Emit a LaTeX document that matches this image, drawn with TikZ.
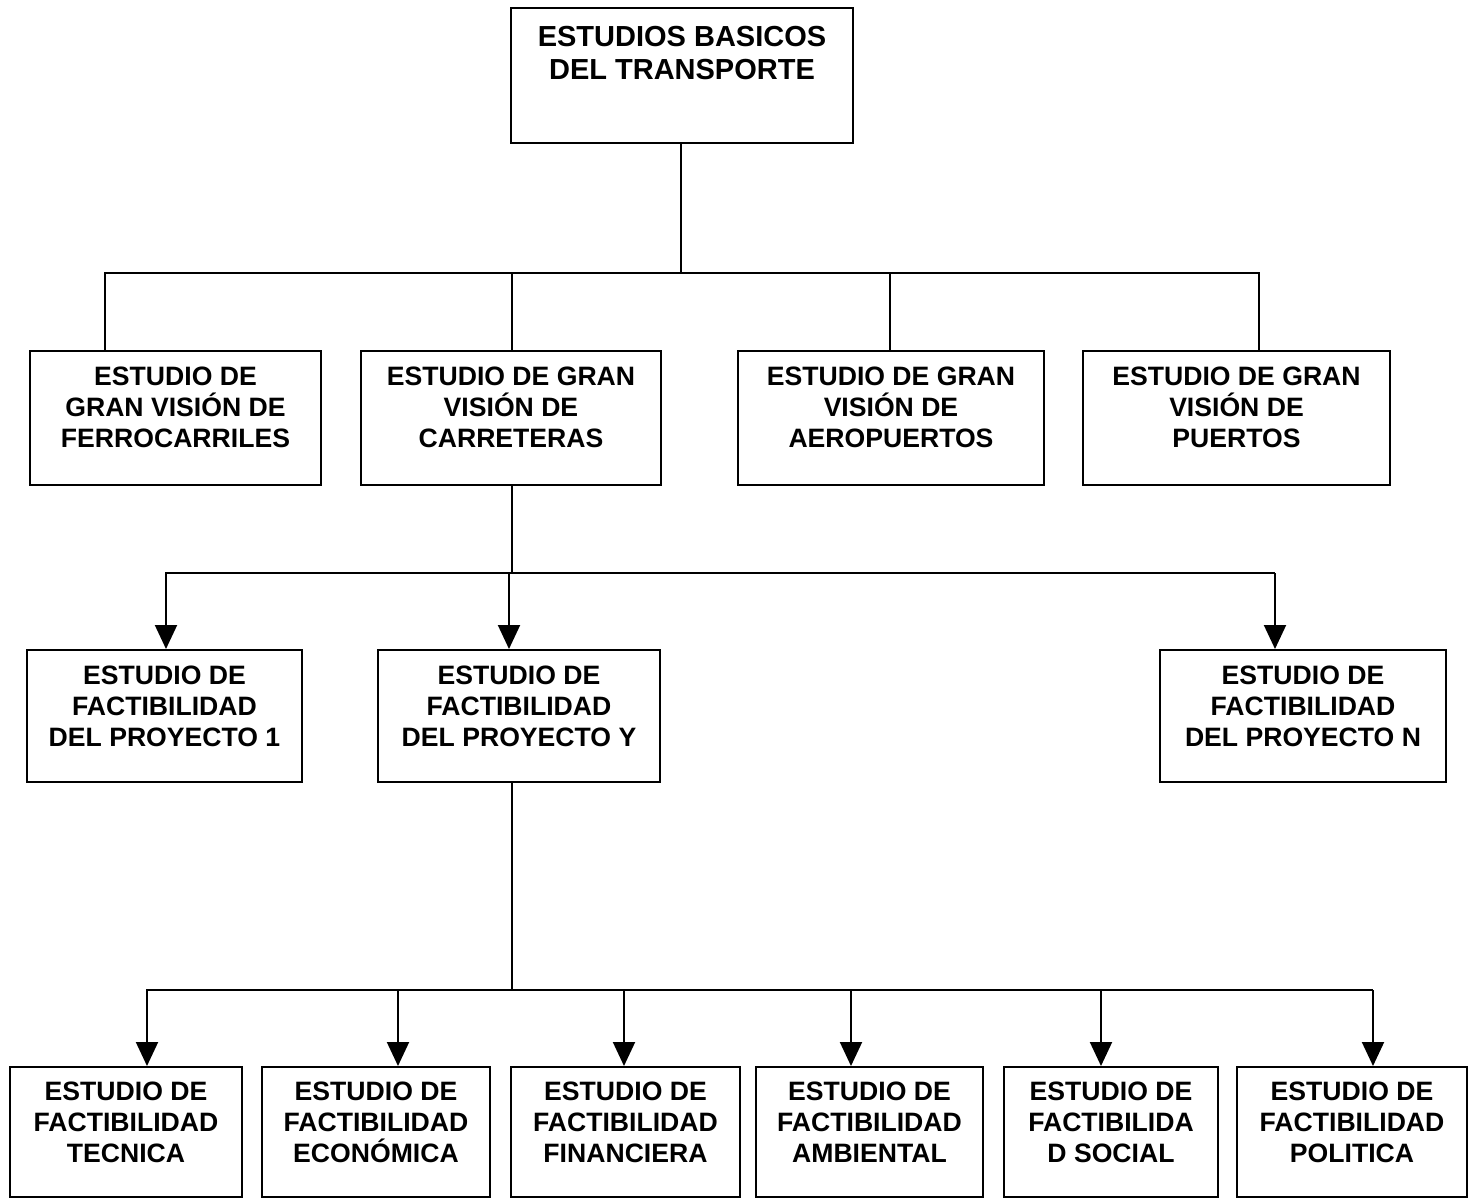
\documentclass[tikz,border=0pt]{standalone}
\usepackage{fontspec}
\setmainfont{Liberation Sans}
\usetikzlibrary{arrows.meta}
\begin{document}
\begin{tikzpicture}[x=0.5pt,y=-0.5pt,
  box/.style={draw,line width=1pt,rectangle,inner sep=0pt},
  txt/.style={inner sep=0pt,align=center,font=\fontsize{13.3pt}{15.5pt}\selectfont\bfseries},
  toptxt/.style={inner sep=0pt,align=center,font=\fontsize{14.5pt}{16.5pt}\selectfont\bfseries},
  wire/.style={line width=1pt},
  arr/.style={line width=1pt,-{Triangle[length=12pt,width=11pt]}}]
\useasboundingbox (0,0) rectangle (1474,1199);

% root
\node[box,minimum width=171pt,minimum height=67.5pt] (root) at (682,75.5) {};
\node[toptxt] (rootT) at ([yshift=11pt]root.center) {ESTUDIOS BASICOS\\DEL TRANSPORTE};

% second level: modes
\node[box,minimum width=145.5pt,minimum height=67pt] (fc) at (175.5,418) {};
\node[box,minimum width=150pt,minimum height=67pt] (ca) at (511,418) {};
\node[box,minimum width=153pt,minimum height=67pt] (ae) at (891,418) {};
\node[box,minimum width=153.5pt,minimum height=67pt] (pu) at (1236.5,418) {};
\node[txt] (fcT) at ([yshift=5.5pt]fc.center) {ESTUDIO DE\\GRAN VISIÓN DE\\FERROCARRILES};
\node[txt] (caT) at ([yshift=5.5pt]ca.center) {ESTUDIO DE GRAN\\VISIÓN DE\\CARRETERAS};
\node[txt] (aeT) at ([yshift=5.5pt]ae.center) {ESTUDIO DE GRAN\\VISIÓN DE\\AEROPUERTOS};
\node[txt] (puT) at ([yshift=5.5pt]pu.center) {ESTUDIO DE GRAN\\VISIÓN DE\\PUERTOS};

% third level: projects
\node[box,minimum width=137.5pt,minimum height=66pt] (p1) at (164.5,716) {};
\node[box,minimum width=141pt,minimum height=66pt] (py) at (519,716) {};
\node[box,minimum width=143pt,minimum height=66pt] (pn) at (1303,716) {};
\node[txt] (p1T) at ([yshift=5pt]p1.center) {ESTUDIO DE\\FACTIBILIDAD\\DEL PROYECTO 1};
\node[txt] (pyT) at ([yshift=5pt]py.center) {ESTUDIO DE\\FACTIBILIDAD\\DEL PROYECTO Y};
\node[txt] (pnT) at ([yshift=5pt]pn.center) {ESTUDIO DE\\FACTIBILIDAD\\DEL PROYECTO N};

% fourth level: feasibility studies
\node[box,minimum width=116pt,minimum height=65pt] (t1) at (126,1132) {};
\node[box,minimum width=114pt,minimum height=65pt] (t2) at (376,1132) {};
\node[box,minimum width=114.5pt,minimum height=65pt] (t3) at (625.5,1132) {};
\node[box,minimum width=113.5pt,minimum height=65pt] (t4) at (869.5,1132) {};
\node[box,minimum width=107pt,minimum height=65pt] (t5) at (1111,1132) {};
\node[box,minimum width=115pt,minimum height=65pt] (t6) at (1352,1132) {};
\node[txt] (t1T) at ([yshift=5pt]t1.center) {ESTUDIO DE\\FACTIBILIDAD\\TECNICA};
\node[txt] (t2T) at ([yshift=5pt]t2.center) {ESTUDIO DE\\FACTIBILIDAD\\ECONÓMICA};
\node[txt] (t3T) at ([yshift=5pt]t3.center) {ESTUDIO DE\\FACTIBILIDAD\\FINANCIERA};
\node[txt] (t4T) at ([yshift=5pt]t4.center) {ESTUDIO DE\\FACTIBILIDAD\\AMBIENTAL};
\node[txt] (t5T) at ([yshift=5pt]t5.center) {ESTUDIO DE\\FACTIBILIDA\\D SOCIAL};
\node[txt] (t6T) at ([yshift=5pt]t6.center) {ESTUDIO DE\\FACTIBILIDAD\\POLITICA};

% bus from root to modes
\coordinate (r0) at (681,273);
\coordinate (a1) at (105,273);
\coordinate (a2) at (512,273);
\coordinate (a3) at (890,273);
\coordinate (a4) at (1259,273);
\draw[wire] (root.south -| r0) -- (r0);
\draw[wire] (a1 |- fc.north) -- (a1) -- (a4) -- (a4 |- pu.north);
\draw[wire] (a2) -- (a2 |- ca.north);
\draw[wire] (a3) -- (a3 |- ae.north);

% bus from roads to projects
\coordinate (s0) at (512,573);
\coordinate (b1) at (166,573);
\coordinate (b2) at (509,573);
\coordinate (b3) at (1275,573);
\draw[wire] (ca.south -| s0) -- (s0);
\draw[arr] (b3) -- (b1) -- (b1 |- p1.north);
\draw[arr] (b3) -- (b3 |- pn.north);
\draw[arr] (b2) -- (b2 |- py.north);

% bus from project Y to feasibility studies
\coordinate (u0) at (512,990);
\coordinate (c1) at (147,990);
\coordinate (c2) at (398,990);
\coordinate (c3) at (624,990);
\coordinate (c4) at (851,990);
\coordinate (c5) at (1101,990);
\coordinate (c6) at (1373,990);
\draw[wire] (py.south -| u0) -- (u0);
\draw[arr] (c6) -- (c1) -- (c1 |- t1.north);
\draw[arr] (c6) -- (c6 |- t6.north);
\draw[arr] (c2) -- (c2 |- t2.north);
\draw[arr] (c3) -- (c3 |- t3.north);
\draw[arr] (c4) -- (c4 |- t4.north);
\draw[arr] (c5) -- (c5 |- t5.north);
\end{tikzpicture}
\end{document}
